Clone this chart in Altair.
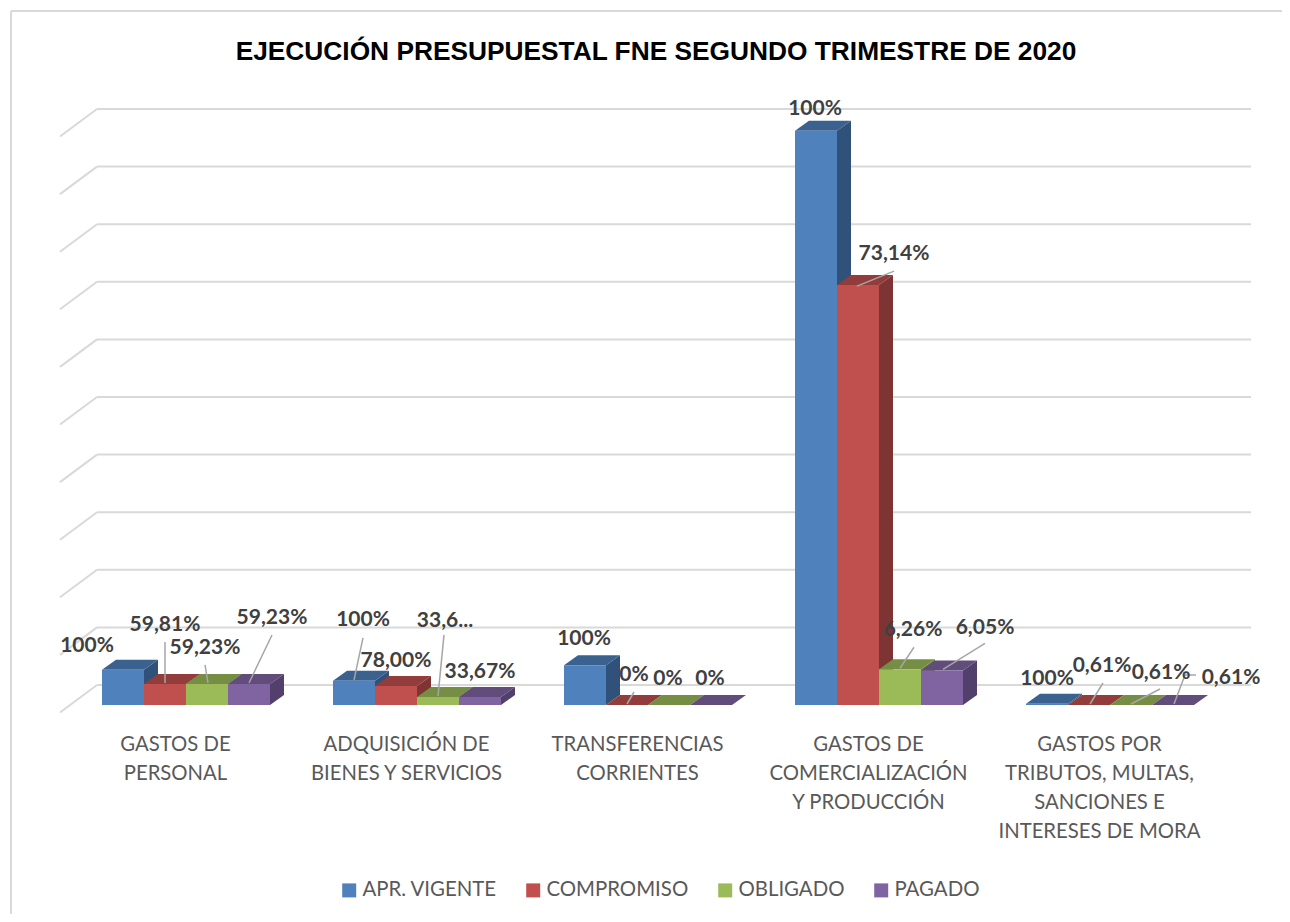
import altair as alt
import pandas as pd

# ---- data ----
categories = ["GASTOS DE\nPERSONAL", "ADQUISICIÓN DE\nBIENES Y SERVICIOS",
              "TRANSFERENCIAS\nCORRIENTES", "GASTOS DE\nCOMERCIALIZACIÓN\nY PRODUCCIÓN",
              "GASTOS POR\nTRIBUTOS, MULTAS,\nSANCIONES E\nINTERESES DE MORA"]
series = ["APR. VIGENTE", "COMPROMISO", "OBLIGADO", "PAGADO"]
apr_vigente = [0.61, 0.42, 0.69, 9.97, 0.02]
compromiso = [0.365, 0.33, 0.0, 7.29, 0.0]
obligado = [0.365, 0.14, 0.0, 0.62, 0.0]
pagado = [0.365, 0.14, 0.0, 0.60, 0.0]
values = [apr_vigente, compromiso, obligado, pagado]
labels = [["100%", "59,81%", "59,23%", "59,23%"],
          ["100%", "78,00%", "33,6...", "33,67%"],
          ["100%", "0%", "0%", "0%"],
          ["100%", "73,14%", "6,26%", "6,05%"],
          ["100%", "0,61%", "0,61%", "0,61%"]]
title_text = "EJECUCIÓN PRESUPUESTAL FNE SEGUNDO TRIMESTRE DE 2020"

# ---- styles ----
front = ["#4F81BD", "#C0504D", "#9BBB59", "#8064A2"]
top_c = ["#3B618F", "#923D3B", "#768E44", "#614C7B"]
side_c = ["#30527A", "#7D3432", "#647A39", "#523F6B"]
GRID = "#D9D9D9"
FONT = "Lato"

# ---- layout: px per bar width / per grid step, offsets of data labels in px from the bar top ----
W, H = 1274, 906
PX_U, PX_V = 42.0, 57.6
ORIGIN_X, ORIGIN_Y = 102, 705      # page position of value 0 / first bar
STEP = 5.5
DEPTH_U, DEPTH_V = 14 / PX_U, 10 / PX_V
label_off = [[(-36, -24), (0, -59), (-2, -36), (23, -66)],
             [(9, -61), (0, -25), (7, -76), (0, -25)],
             [(-1, -26), (7, -30), (-1, -26), (-1, -26)],
             [(-1, -22), (36, -31), (13, -39), (43, -42)],
             [(0, -25), (13, -39), (30, -32), (58, -27)]]
leaders = [(0, 1, 0, -42, 0, -1), (0, 2, -2, -19, 1, -1), (0, 3, 23, -49, 0, -1),
           (1, 0, 9, -43, 0, -1), (1, 2, 6, -62, 0, -1),
           (2, 1, 7, -13, 0, -1),
           (3, 1, 36, -14, -1, 1), (3, 2, 14, -22, 0, -1), (3, 3, 43, -27, 1, -1),
           (4, 1, 14, -22, 1, -1), (4, 2, 29, -16, 0, -1),
           (4, 3, 23, -30, 12, -30), (4, 3, 12, -30, 1, -1)]

xs = alt.Scale(domain=[(8 - ORIGIN_X) / PX_U, (8 + W - ORIGIN_X) / PX_U], range=[0, W], nice=False, zero=False)
ys = alt.Scale(domain=[(ORIGIN_Y - 8 - H) / PX_V, (ORIGIN_Y - 8) / PX_V], range=[H, 0], nice=False, zero=False)
X = lambda f: alt.X(f, type="quantitative", scale=xs, axis=None, title=None)
Y = lambda f: alt.Y(f, type="quantitative", scale=ys, axis=None, title=None, stack=None)
X2 = lambda f: alt.X2(f)
Y2 = lambda f: alt.Y2(f)


def px_u(p):
    return (p - ORIGIN_X) / PX_U


def px_v(p):
    return (ORIGIN_Y - p) / PX_V


# bars
bars, sides, tops, texts, lead = [], [], [], [], []
for g in range(len(categories)):
    for s in range(len(series)):
        v = values[s][g]
        x0 = g * STEP + s
        x1 = x0 + 1
        bars.append(dict(x=x0, x2=x1, y=0, y2=v, series=series[s]))
        sides += [dict(id=f"{g}-{s}", x=x1, y=0, y2=v, c=side_c[s]),
                  dict(id=f"{g}-{s}", x=x1 + DEPTH_U, y=DEPTH_V, y2=v + DEPTH_V, c=side_c[s])]
        tops += [dict(id=f"{g}-{s}", y=v, x=x0, x2=x1, c=top_c[s]),
                 dict(id=f"{g}-{s}", y=v + DEPTH_V, x=x0 + DEPTH_U, x2=x1 + DEPTH_U, c=top_c[s])]
        dx, dy = label_off[g][s]
        texts.append(dict(x=x0 + 0.5 + dx / PX_U, y=v - dy / PX_V, t=labels[g][s]))
for g, s, ax, ay, bx, by in leaders:
    cx = g * STEP + s + 0.5
    v = values[s][g]
    lead.append(dict(x=cx + ax / PX_U, y=v - ay / PX_V, x2=cx + bx / PX_U, y2=v - by / PX_V))

df_bars, df_sides, df_tops = pd.DataFrame(bars), pd.DataFrame(sides), pd.DataFrame(tops)

# gridlines & wall
BACK_BASE = 2 * DEPTH_V
WALL_U = 37 / PX_U
FRONT_X = px_u(60)
grid_levels = list(range(11))
gl = pd.DataFrame(dict(x=[FRONT_X + WALL_U] * 11, x2=[px_u(1251)] * 11,
                       y=[BACK_BASE + k for k in grid_levels]))
diag = pd.DataFrame(dict(x=[FRONT_X] * 11, x2=[FRONT_X + WALL_U] * 11,
                         y=[BACK_BASE - 27.5 / PX_V + k for k in grid_levels],
                         y2=[BACK_BASE + k for k in grid_levels]))
grid_layer = alt.Chart(gl).mark_rule(color=GRID, strokeWidth=2).encode(X("x"), X2("x2"), Y("y"))
diag_layer = alt.Chart(diag).mark_rule(color=GRID, strokeWidth=2).encode(X("x"), X2("x2"), Y("y"), Y2("y2"))

# frame (runs off the page to the right and below)
frame = pd.DataFrame(dict(x=[px_u(11), px_u(11)], x2=[px_u(1282), px_u(11)],
                          y=[px_v(11), px_v(11)], y2=[px_v(11), px_v(914)]))
frame_layer = alt.Chart(frame).mark_rule(color=GRID, strokeWidth=2).encode(X("x"), X2("x2"), Y("y"), Y2("y2"))

side_layer = alt.Chart(df_sides).mark_area(interpolate="linear").encode(
    X("x"), Y("y"), Y2("y2"), detail="id:N", fill=alt.Fill("c:N", scale=None, legend=None))
top_layer = alt.Chart(df_tops).mark_area(orient="horizontal", interpolate="linear").encode(
    X("x"), X2("x2"), Y("y"), detail="id:N", fill=alt.Fill("c:N", scale=None, legend=None))
front_layer = alt.Chart(df_bars).mark_bar(stroke=None).encode(
    X("x"), X2("x2"), Y("y"), Y2("y2"),
    color=alt.Color("series:N", sort=series, scale=alt.Scale(domain=series, range=front),
                    legend=alt.Legend(title=None, orient="none", legendX=331, legendY=872,
                                      direction="horizontal", columns=4, symbolType="square",
                                      symbolSize=196, symbolStrokeWidth=0, labelFont=FONT,
                                      labelFontSize=20.4, labelColor="#595959", columnPadding=26,
                                      labelOffset=3, symbolOpacity=1)))
lead_layer = alt.Chart(pd.DataFrame(lead)).mark_rule(color="#A6A6A6", strokeWidth=1.5).encode(
    X("x"), X2("x2"), Y("y"), Y2("y2"))
text_layer = alt.Chart(pd.DataFrame(texts)).mark_text(
    font=FONT, fontWeight="bold", fontSize=21, color="#404040", baseline="middle", align="center"
).encode(X("x"), Y("y"), text="t:N")

cat_df = pd.DataFrame(dict(x=[px_u(175.5) + g * STEP for g in range(5)],
                           y=[px_v(735)] * 5, t=categories))
cat_layer = alt.Chart(cat_df).mark_text(
    font=FONT, fontSize=20.3, color="#595959", baseline="top", align="center", lineBreak="\n", lineHeight=29
).encode(X("x"), Y("y"), text="t:N")

title_layer = alt.Chart(pd.DataFrame(dict(x=[px_u(656)], y=[px_v(52)], t=[title_text]))).mark_text(
    font="Liberation Sans", fontWeight="bold", fontSize=26.3, color="#000000", baseline="middle", align="center"
).encode(X("x"), Y("y"), text="t:N")

chart = alt.layer(
    frame_layer, grid_layer, diag_layer, side_layer, top_layer, front_layer,
    lead_layer, text_layer, cat_layer, title_layer).properties(
    width=W, height=H, padding=0, autosize=alt.AutoSizeParams(type="none"), background="white"
).configure_view(stroke=None)

chart.save("out.html", embed_options={"renderer": "svg", "actions": False})
